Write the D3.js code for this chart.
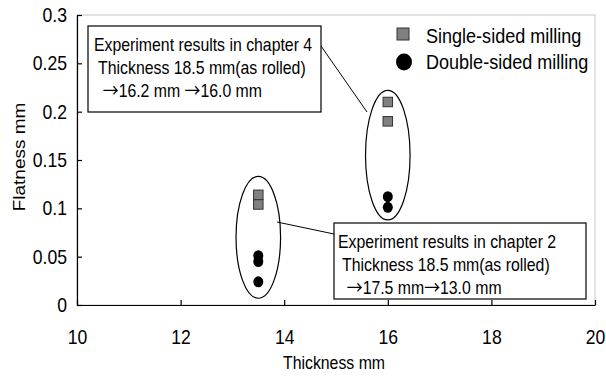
<!DOCTYPE html>
<html><head><meta charset="utf-8">
<script src="https://cdn.jsdelivr.net/npm/d3@7"></script>
<style>body{margin:0;background:#fff}text{font-family:"Liberation Sans",Arial,sans-serif;fill:#000}</style>
</head><body><svg id="c" width="606" height="378"></svg>
<script>
const xTicks = [10, 12, 14, 16, 18, 20];
const yTicks = [0, 0.05, 0.1, 0.15, 0.2, 0.25, 0.3];
const yTickLabels = ["0", "0.05", "0.1", "0.15", "0.2", "0.25", "0.3"];
const singleX = [13.5, 13.5, 16, 16];
const singleY = [0.114, 0.104, 0.21, 0.19];
const doubleX = [13.5, 13.5, 13.5, 16, 16];
const doubleY = [0.051, 0.045, 0.024, 0.112, 0.101];
const seriesNames = ["Single-sided milling", "Double-sided milling"];
const box4Lines = ["Experiment results in chapter 4", " Thickness 18.5 mm(as rolled)", "  \u219216.2 mm \u219216.0 mm"];
const box2Lines = ["Experiment results in chapter 2", " Thickness 18.5 mm(as rolled)", "  \u219217.5 mm\u219213.0 mm"];
// ellipse groups in data coords: [cx, cy, halfWidth, halfHeight]
const groupEllipses = [[13.5, 0.07, 0.43, 0.063], [16, 0.155, 0.43, 0.067]];

const SX = 0.88; // horizontal squeeze of the lettering
const FONT = '"Liberation Sans",Arial,sans-serif';
const svg = d3.select("#c");
const L = 77, R = 595, T = 15, B = 305;
const x = d3.scaleLinear().domain([10, 20]).range([L, R]);
const y = d3.scaleLinear().domain([0, 0.3]).range([B, T]);

svg.append("rect").attr("x", L).attr("y", T).attr("width", R - L).attr("height", B - T)
  .attr("fill", "none").attr("stroke", "#c8c8c8").attr("stroke-width", 1);

const xa = svg.append("g").attr("transform", `translate(0,${B})`)
  .call(d3.axisBottom(x).tickValues(xTicks).tickSizeInner(-5).tickSizeOuter(0).tickPadding(25).tickFormat(d3.format("d")));
const ya = svg.append("g").attr("transform", `translate(${L},0)`)
  .call(d3.axisLeft(y).tickValues(yTicks).tickSizeInner(-5).tickSizeOuter(0).tickPadding(10).tickFormat((d, i) => yTickLabels[i]));
[xa, ya].forEach(a => {
  a.selectAll("path,line").attr("stroke", "#000").attr("stroke-width", 1.2);
  a.selectAll("text").attr("font-size", 20).attr("font-family", FONT).attr("fill", "#000");
});
ya.selectAll("text").attr("x", -10 / SX).attr("transform", `scale(${SX},1)`);
xa.selectAll("text").attr("transform", `scale(${SX},1)`);

function label(tx, ty, size, str, anchor) {
  const t = svg.append("text").attr("transform", `translate(${tx},${ty}) scale(${SX},1)`)
    .attr("font-size", size).attr("text-anchor", anchor || "start").attr("xml:space", "preserve").style("white-space", "pre");
  str.split(/(\u2192)/).forEach(part => {
    if (!part) return;
    const s = t.append("tspan").text(part);
    if (part === "\u2192") s.attr("font-family", '"Noto Sans CJK JP",sans-serif');
  });
  return t;
}

label((L + R) / 2 - 2, 369, 18, "Thickness mm", "middle");
svg.append("text").attr("transform", `translate(25,${(T + B) / 2 - 3}) rotate(-90) scale(1,${SX})`)
  .attr("text-anchor", "middle").attr("font-size", 19).text("Flatness mm");

groupEllipses.forEach(e => {
  svg.append("ellipse").attr("cx", x(e[0])).attr("cy", y(e[1]))
    .attr("rx", x(e[0] + e[2]) - x(e[0])).attr("ry", y(0) - y(e[3]))
    .attr("fill", "none").attr("stroke", "#000").attr("stroke-width", 1.2);
});

const sq = 9.5;
svg.append("g").selectAll("rect").data(singleX).join("rect")
  .attr("x", d => x(d) - sq / 2).attr("y", (d, i) => y(singleY[i]) - sq / 2)
  .attr("width", sq).attr("height", sq).attr("fill", "#808080").attr("stroke", "#333").attr("stroke-width", 1);
svg.append("g").selectAll("ellipse").data(doubleX).join("ellipse")
  .attr("cx", d => x(d)).attr("cy", (d, i) => y(doubleY[i])).attr("rx", 5).attr("ry", 5.5).attr("fill", "#000");

function box(bx, by, bw, bh, lines, tx) {
  svg.append("rect").attr("x", bx).attr("y", by).attr("width", bw).attr("height", bh)
    .attr("fill", "#fff").attr("stroke", "#000").attr("stroke-width", 1.2);
  lines.forEach((t, i) => label(tx, by + 25 + i * 23, 18, t));
}
svg.append("line").attr("x1", 321).attr("y1", 46).attr("x2", 367).attr("y2", 112).attr("stroke", "#000").attr("stroke-width", 1);
svg.append("line").attr("x1", 277).attr("y1", 222).attr("x2", 334).attr("y2", 234).attr("stroke", "#000").attr("stroke-width", 1);
box(88, 26, 233, 86, box4Lines, 94);
box(334, 223, 252, 76, box2Lines, 338);

svg.append("rect").attr("x", 397).attr("y", 28).attr("width", 12).attr("height", 12)
  .attr("fill", "#808080").attr("stroke", "#333").attr("stroke-width", 1);
svg.append("ellipse").attr("cx", 404).attr("cy", 62).attr("rx", 8).attr("ry", 8.5).attr("fill", "#000");
label(426, 43, 20.5, seriesNames[0]);
label(426, 69, 20.5, seriesNames[1]);
</script></body></html>
